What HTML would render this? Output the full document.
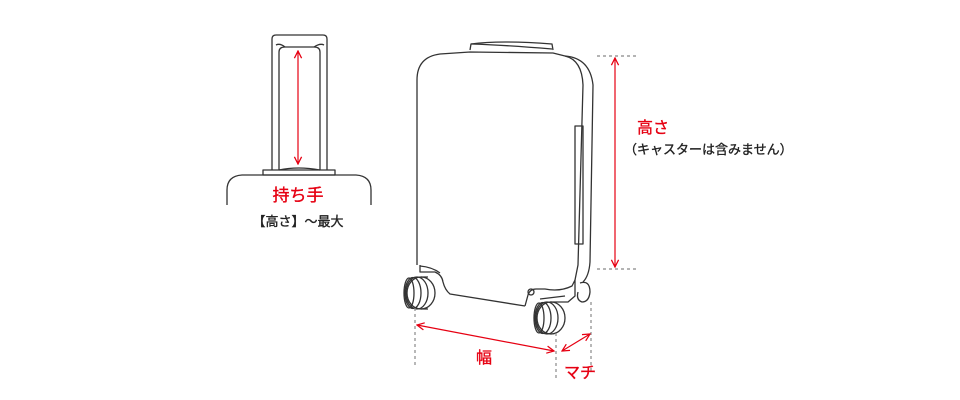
<!DOCTYPE html>
<html><head><meta charset="utf-8"><style>
html,body{margin:0;padding:0;background:#fff;width:960px;height:400px;overflow:hidden}
svg{display:block}
text{font-family:"Liberation Sans","Noto Sans CJK JP",sans-serif}
</style></head><body>
<svg width="960" height="400" viewBox="0 0 960 400" xmlns="http://www.w3.org/2000/svg">
<defs>
<marker id="ar" viewBox="0 0 10 10" refX="9" refY="5" markerWidth="9" markerHeight="9" orient="auto-start-reverse" markerUnits="userSpaceOnUse"><path d="M1,1 L9,5 L1,9" fill="none" stroke="#e60012" stroke-width="1.4"/></marker>
</defs>
<g fill="none" stroke="#333" stroke-width="1.3" stroke-linejoin="round">
<path d="M272,170 V39 Q272,35 276,35 H323 Q327,35 327,39 V170"/>
<path d="M279,170 V52 Q279,47 285,47 H314 Q320,47 320,52 V170"/>
<path d="M285,47 Q280,43 276,45 M314,47 Q320,43 324,45"/>
<rect x="263" y="170" width="72" height="5"/>
<path d="M279,170 Q298,166 320,170"/>
<path d="M227,205 V190 Q227,176 242,175 H356 Q371,176 371,190 V205"/>
<path d="M470,50 L471,44 Q500,40 552,44 L553,50"/>
<path d="M471,44 Q505,45 552,49"/>
<path d="M417,265 V80 Q417,57 440,54 L470,52 L553,53 L565,56 Q582,60 583,85 L578,265 L575,280"/>
<path d="M565,56 Q590,58 593,85 L590,262 Q589,276 583,282"/>
<rect x="575" y="126" width="8" height="118"/>
<path d="M420,265 L420,272 L435,272 Q442,275 443,282 Q445,290 450,294 L525,306"/>
<path d="M420,266 Q432,267 440,273"/>
<path d="M525,306 L528,295 Q530,289 536,289 L545,289 Q560,292 572,286 L575,280 L575,296 L568,302 L550,302"/>
<circle cx="531" cy="292" r="3"/>
<path d="M540,299 L565,296"/>
<ellipse cx="421" cy="293" rx="14" ry="16"/>
<ellipse cx="417" cy="293" rx="11" ry="16"/>
<ellipse cx="413" cy="293" rx="8" ry="15.5"/>
<ellipse cx="409" cy="293" rx="5" ry="15"/>
<path d="M421,277 H428 M421,309 H428"/>
<ellipse cx="551" cy="318" rx="14" ry="16"/>
<ellipse cx="547" cy="318" rx="11" ry="16"/>
<ellipse cx="543" cy="318" rx="8" ry="15.5"/>
<ellipse cx="539" cy="318" rx="5" ry="15"/>
<path d="M580,283 Q590,280 590,292 Q589,302 582,302 Q576,300 578,292"/>
</g>
<g stroke="#888" stroke-width="1.2" stroke-dasharray="3,3" fill="none">
<path d="M597,56 H636"/>
<path d="M597,269 H636"/>
<path d="M415,308 V366"/>
<path d="M556,333 V378"/>
<path d="M591,302 V372"/>
</g>
<g stroke="#e60012" stroke-width="1.2" fill="none">
<path d="M298,51 V164" marker-start="url(#ar)" marker-end="url(#ar)"/>
<path d="M615,58 V267" marker-start="url(#ar)" marker-end="url(#ar)"/>
<path d="M417,325 L554,351" marker-start="url(#ar)" marker-end="url(#ar)"/>
<path d="M562,351 L590,334" marker-start="url(#ar)" marker-end="url(#ar)"/>
</g>
<g stroke-width="0.35">
<text x="298" y="201" fill="#e60012" stroke="#e60012" font-size="17" text-anchor="middle">持ち手</text>
<text x="298" y="226" fill="#222" stroke="#222" font-size="13" text-anchor="middle">【高さ】～最大</text>
<text x="637" y="133" fill="#e60012" stroke="#e60012" font-size="16">高さ</text>
<text x="624" y="154" fill="#222" stroke="#222" font-size="13">（キャスターは含みません）</text>
<text x="476" y="363" fill="#e60012" stroke="#e60012" font-size="16">幅</text>
<text x="564" y="378" fill="#e60012" stroke="#e60012" font-size="16">マチ</text>
</g>
</svg>
</body></html>
